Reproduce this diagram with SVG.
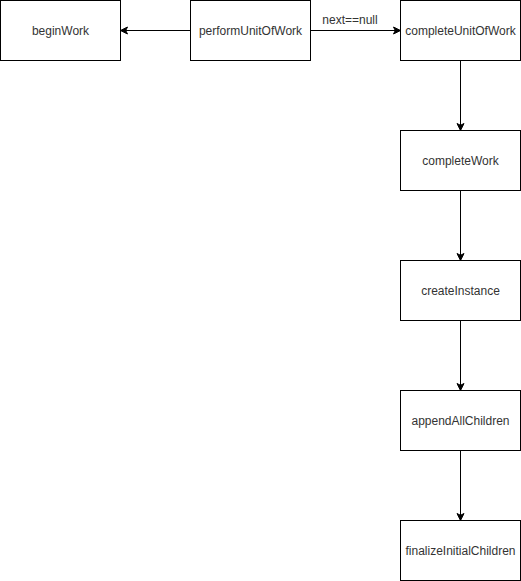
<svg xmlns="http://www.w3.org/2000/svg" width="521" height="581" viewBox="0 0 521 581">
<style>
.box{fill:#fff;stroke:#000;stroke-width:1}
.t{font-family:"Liberation Sans",Arial,sans-serif;font-size:12px;fill:#333;text-anchor:middle;dominant-baseline:central}
.e{stroke:#000;stroke-width:1;fill:none}
</style>
<defs>
<marker id="a" markerWidth="10" markerHeight="10" refX="8" refY="5" orient="auto" markerUnits="userSpaceOnUse">
<path d="M1,1.5 L8,5 L1,8.5 L2.8,5 Z" fill="#000" stroke="#000" stroke-width="1"/>
</marker>
</defs>
<rect width="521" height="581" fill="#fff"/>
<g id="connectors">
<path class="e" d="M190.5,30.5 H120.5" marker-end="url(#a)"/>
<path class="e" d="M310.5,30.5 H400.5" marker-end="url(#a)"/>
<text class="t" x="350" y="20">next==null</text>
<path class="e" d="M460.5,60.5 V130.5" marker-end="url(#a)"/>
<path class="e" d="M460.5,190.5 V260.5" marker-end="url(#a)"/>
<path class="e" d="M460.5,320.5 V390.5" marker-end="url(#a)"/>
<path class="e" d="M460.5,450.5 V520.5" marker-end="url(#a)"/>
</g>
<g id="beginWork"><rect class="box" x="0.5" y="0.5" width="120" height="60"/><text class="t" x="60.5" y="30.5">beginWork</text></g>
<g id="performUnitOfWork"><rect class="box" x="190.5" y="0.5" width="120" height="60"/><text class="t" x="250.5" y="30.5">performUnitOfWork</text></g>
<g id="completeUnitOfWork"><rect class="box" x="400.5" y="0.5" width="120" height="60"/><text class="t" x="460.5" y="30.5">completeUnitOfWork</text></g>
<g id="completeWork"><rect class="box" x="400.5" y="130.5" width="120" height="60"/><text class="t" x="460.5" y="160.5">completeWork</text></g>
<g id="createInstance"><rect class="box" x="400.5" y="260.5" width="120" height="60"/><text class="t" x="460.5" y="290.5">createInstance</text></g>
<g id="appendAllChildren"><rect class="box" x="400.5" y="390.5" width="120" height="60"/><text class="t" x="460.5" y="420.5">appendAllChildren</text></g>
<g id="finalizeInitialChildren"><rect class="box" x="400.5" y="520.5" width="120" height="60"/><text class="t" x="460.5" y="550.5">finalizeInitialChildren</text></g>
</svg>
